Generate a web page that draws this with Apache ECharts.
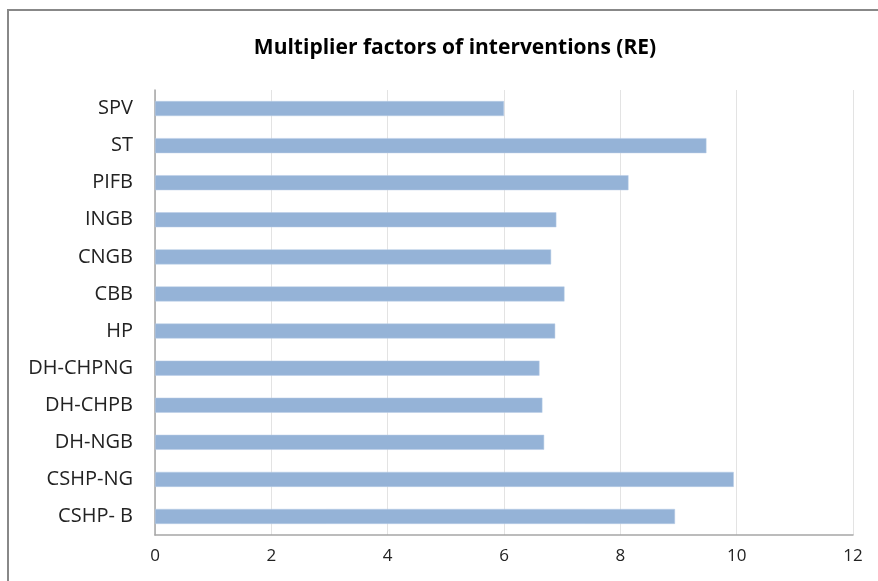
<!DOCTYPE html>
<html><head><meta charset="utf-8">
<script src="https://cdn.jsdelivr.net/npm/echarts@6/dist/echarts.min.js"></script>
<style>html,body{margin:0;padding:0;background:#fff}#c{width:878px;height:581px}</style>
</head><body><div id="c"></div>
<script>
const categories = ["SPV","ST","PIFB","INGB","CNGB","CBB","HP","DH-CHPNG","DH-CHPB","DH-NGB","CSHP-NG","CSHP- B"];
const values = [6.0,9.48,8.14,6.9,6.81,7.04,6.88,6.61,6.66,6.69,9.95,8.94];
const xTicks = [0,2,4,6,8,10,12];
const font = '"Open Sans", "Noto Sans", sans-serif';
const chart = echarts.init(document.getElementById('c'));
chart.setOption({
  animation:false,
  title:{text:'Multiplier factors of interventions (RE)',left:450,top:33,textAlign:'center',
    textStyle:{fontFamily:font,fontSize:21,fontWeight:'bold',color:'#000'}},
  graphic:[{type:'rect',shape:{x:8,y:10,width:900,height:600},style:{fill:'none',stroke:'#888',lineWidth:2},silent:true,z:-1}],
  grid:{left:155,right:25,top:90,bottom:46},
  xAxis:{type:'value',min:xTicks[0],max:xTicks[xTicks.length-1],interval:2,
    axisLine:{show:true,lineStyle:{color:'#a6a6a6',width:1.5}},axisTick:{show:false},
    splitLine:{show:true,lineStyle:{color:'#e3e3e3',width:1}},
    axisLabel:{fontFamily:font,fontSize:17,color:'#222',margin:13}},
  yAxis:{type:'category',data:categories,inverse:true,
    axisLine:{show:true,lineStyle:{color:'#a6a6a6',width:1.5}},axisTick:{show:false},
    splitLine:{show:false},
    axisLabel:{fontFamily:font,fontSize:20,color:'#222',margin:22}},
  series:[{type:'bar',data:values,barWidth:15,
    itemStyle:{color:'#95b3d7',borderColor:'#b8cde6',borderWidth:0.5}}]
});
</script></body></html>
